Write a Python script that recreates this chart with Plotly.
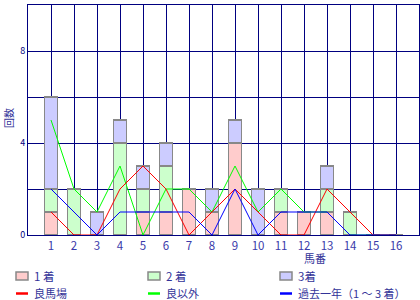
import plotly.graph_objects as go

categories = list(range(1, 17))
tick_labels = [str(c) for c in categories]

first = [1, 0, 0, 0, 1, 1, 2, 1, 4, 0, 1, 1, 1, 0, 0, 0]
second = [1, 2, 0, 4, 1, 2, 0, 0, 0, 0, 1, 0, 1, 1, 0, 0]
third = [4, 0, 1, 1, 1, 1, 0, 1, 1, 2, 0, 0, 1, 0, 0, 0]

good_track = [1, 0, 0, 2, 3, 2, 0, 1, 2, 1, 0, 0, 2, 1, 0, 0]
other_track = [5, 2, 1, 3, 0, 2, 2, 1, 3, 1, 2, 1, 1, 0, 0, 0]
past_year = [2, 1, 0, 1, 1, 1, 1, 0, 2, 0, 1, 1, 1, 0, 0, 0]

bar_names = ["1 着", "2 着", "3着"]
line_names = ["良馬場", "良以外", "過去一年（1 ～ 3 着）"]
bar_colors = ["#ffcccc", "#ccffcc", "#ccccff"]
line_colors = ["#ff0000", "#00ff00", "#0000ff"]

NAVY = "#000080"
TXT = "#333399"
FONT = "Noto Sans CJK JP"

fig = go.Figure()
for name, vals, col in zip(bar_names, [first, second, third], bar_colors):
    fig.add_trace(go.Bar(x=categories, y=vals, name=name, width=0.57,
                         marker=dict(color=col, line=dict(color="#888888", width=1.5)),
                         showlegend=False))

for name, vals, col in [(line_names[1], other_track, line_colors[1]),
                        (line_names[0], good_track, line_colors[0]),
                        (line_names[2], past_year, line_colors[2])]:
    fig.add_trace(go.Scatter(x=categories, y=vals, name=name, mode="lines",
                             line=dict(color=col, width=1), cliponaxis=False,
                             showlegend=False))

L, R, T, B = 28, 419, 5, 235
W, H = R - L, B - T
def px(x):
    return (x - L) / W
def py(y):
    return (B - y) / H

fig.update_layout(
    width=420, height=300,
    margin=dict(l=L, r=420 - R, t=T, b=300 - B),
    barmode="stack",
    plot_bgcolor="white", paper_bgcolor="white",
    font=dict(family=FONT, color=TXT, size=12),
    xaxis=dict(range=[0, 17], tickvals=categories, ticktext=tick_labels,
               showgrid=True, gridcolor=NAVY, gridwidth=1,
               showline=True, linecolor=NAVY, linewidth=1, mirror=True,
               ticks="", zeroline=False, layer="below traces",
               tickfont=dict(size=11.5, color="#3a3aaa", family=FONT)),
    yaxis=dict(range=[0, 10], tickvals=[0, 2, 4, 6, 8, 10],
               ticktext=["0", "", "4", "", "8", ""],
               showgrid=True, gridcolor=NAVY, gridwidth=1,
               showline=True, linecolor=NAVY, linewidth=1, mirror=True,
               ticks="", zeroline=False, layer="below traces",
               tickfont=dict(size=9, color=NAVY, family=FONT)),
    showlegend=False,
)

annotations = [
    dict(text="馬番", x=px(315), y=py(258), xref="paper", yref="paper",
         xanchor="center", yanchor="middle",
         showarrow=False, font=dict(size=11, color=TXT, family=FONT)),
    dict(text="回数", x=px(8), y=py(118), xref="paper", yref="paper",
         xanchor="center", yanchor="middle",
         showarrow=False, textangle=-90, font=dict(size=10, color=TXT, family=FONT)),
]
shapes = []
cols = [16, 148, 280]
for i in range(3):
    x0 = cols[i]
    shapes.append(dict(type="rect", xref="paper", yref="paper",
                       x0=px(x0), x1=px(x0 + 12), y0=py(280), y1=py(272),
                       fillcolor=bar_colors[i], line=dict(color="#888888", width=1.5)))
    annotations.append(dict(text=bar_names[i], x=px(x0 + 16), y=py(275.5),
                            xref="paper", yref="paper", xanchor="left", yanchor="middle",
                            showarrow=False,
                            font=dict(size=11.5, color=TXT, family=FONT)))
    shapes.append(dict(type="line", xref="paper", yref="paper",
                       x0=px(x0), x1=px(x0 + 12), y0=py(293.5), y1=py(293.5),
                       line=dict(color=line_colors[i], width=2.5)))
    annotations.append(dict(text=line_names[i], x=px(x0 + 16), y=py(292.5),
                            xref="paper", yref="paper", xanchor="left", yanchor="middle",
                            showarrow=False,
                            font=dict(size=11, color=TXT, family=FONT)))

fig.update_layout(annotations=annotations, shapes=shapes)
fig.write_html("out.html")
